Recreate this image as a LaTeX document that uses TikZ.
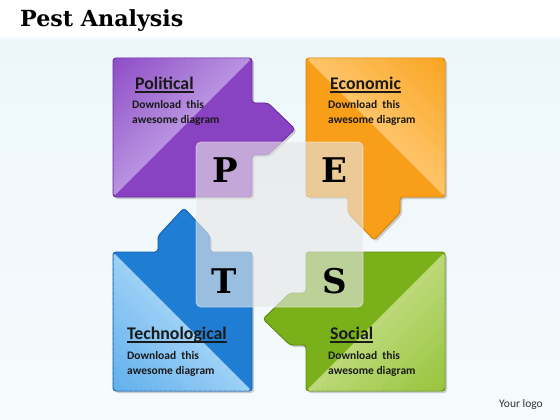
\documentclass[tikz,border=0pt]{standalone}
\usepackage{fontspec}
\setmainfont{Carlito}
\newfontfamily\slab{DejaVu Serif}
\usetikzlibrary{calc}
\definecolor{bgtop}{HTML}{EDF7FB}
\definecolor{bgbot}{HTML}{F6FAFC}
\definecolor{pdark}{HTML}{8842C2}
\definecolor{pc1}{HTML}{8E4EC6}
\definecolor{pc2}{HTML}{B892E0}
\definecolor{pedge}{HTML}{6A2C9E}
\definecolor{odark}{HTML}{F89E18}
\definecolor{oc1}{HTML}{F9A522}
\definecolor{oc2}{HTML}{FFC468}
\definecolor{oedge}{HTML}{D88200}
\definecolor{bdark}{HTML}{1F7ED4}
\definecolor{bc1}{HTML}{62B0EC}
\definecolor{bc2}{HTML}{9CD0F6}
\definecolor{bedge}{HTML}{145EA6}
\definecolor{gdark}{HTML}{7AB11A}
\definecolor{gc1}{HTML}{98C43E}
\definecolor{gc2}{HTML}{BBD978}
\definecolor{gedge}{HTML}{5C8A0E}
\definecolor{centrec}{HTML}{E6E6E6}
\definecolor{txt}{HTML}{1A1A1A}
\tikzset{
  quad/.style={line width=0.9pt, rounded corners=3pt},
  shadowbox/.style={fill=black, opacity=0.18, rounded corners=3pt},
  heading/.style={anchor=base west, inner sep=0pt, text=txt, font=\bfseries\fontsize{17.8}{17.8}\selectfont},
  bodytext/.style={anchor=base west, inner sep=0pt, text=txt, align=left, font=\bfseries\fontsize{11.5}{15}\selectfont},
  letter/.style={inner sep=0pt, text=black, font=\slab\bfseries\fontsize{34}{34}\selectfont},
  uline/.style={line width=1.2pt, draw=txt}
}
\newcommand{\dlt}{Download\hspace{0.45em}this\\awesome diagram}
% strips parallel to lines x+y=s (sum) from s=#1 (corner) to s=#2 (diagonal), colour #3 -> #4
\newcommand{\stripsum}[4]{%
  \foreach \i in {0,...,27}{%
    \pgfmathsetmacro{\sa}{#1+(#2-#1)*\i/28}%
    \pgfmathsetmacro{\sb}{#1+(#2-#1)*(\i+1.4)/28}%
    \pgfmathtruncatemacro{\pc}{100*\i/27}%
    \fill[#4!\pc!#3] (\sa,0) -- (\sb,0) -- (\sb-700,700) -- (\sa-700,700) -- cycle;
  }}
% strips parallel to lines x-y=s (difference)
\newcommand{\stripdif}[4]{%
  \foreach \i in {0,...,27}{%
    \pgfmathsetmacro{\sa}{#1+(#2-#1)*\i/28}%
    \pgfmathsetmacro{\sb}{#1+(#2-#1)*(\i+1.4)/28}%
    \pgfmathtruncatemacro{\pc}{100*\i/27}%
    \fill[#4!\pc!#3] (\sa,0) -- (\sb,0) -- (\sb+700,700) -- (\sa+700,700) -- cycle;
  }}
\begin{document}
\begin{tikzpicture}[x=1pt,y=-1pt]
\useasboundingbox (0,0) rectangle (560,420);
% background
\fill[white] (0,0) rectangle (560,420);
\shade[top color=bgtop, bottom color=bgbot] (0,40) rectangle (560,420);
\shade[top color=white, bottom color=bgtop] (0,34) rectangle (560,41);
% title
\node[anchor=base west, inner sep=0pt, text=black, font=\slab\bfseries\fontsize{22.2}{22.2}\selectfont] (title) at (20,27) {Pest Analysis};
% ---------- Political (top-left) ----------
\def\pathTL{(113,58) -- (252,58) -- (252,103) -- (268,103) -- (295,129) -- (268,155) -- (252,155) -- (252,197) -- (113,197) -- cycle}
\fill[shadowbox, xshift=2pt, yshift=-2pt] \pathTL;
\path[quad, fill=pdark, draw=pedge] \pathTL;
\begin{scope}
\clip[rounded corners=3pt] (113.5,58.5) -- (251.5,58.5) -- (113.5,196.5) -- cycle;
\stripsum{171}{310}{pc1}{pc2}
\end{scope}
% ---------- Economic (top-right) ----------
\def\pathTR{(306,58) -- (445,58) -- (445,197) -- (400,197) -- (400,213) -- (374,240) -- (348,213) -- (348,197) -- (306,197) -- cycle}
\fill[shadowbox, xshift=2pt, yshift=-2pt] \pathTR;
\path[quad, fill=odark, draw=oedge] \pathTR;
\begin{scope}
\clip[rounded corners=3pt] (306.5,58.5) -- (444.5,58.5) -- (444.5,196.5) -- cycle;
\stripdif{387}{248}{oc1}{oc2}
\end{scope}
% ---------- Technological (bottom-left) ----------
\def\pathBL{(113,252) -- (158,252) -- (158,236) -- (184,208) -- (210,236) -- (210,252) -- (252,252) -- (252,391) -- (113,391) -- cycle}
\fill[shadowbox, xshift=2pt, yshift=-2pt] \pathBL;
\path[quad, fill=bdark, draw=bedge] \pathBL;
\begin{scope}
\clip[rounded corners=3pt] (113.5,252.5) -- (113.5,390.5) -- (251.5,390.5) -- cycle;
\stripdif{-278}{-139}{bc1}{bc2}
\end{scope}
% ---------- Social (bottom-right) ----------
\def\pathBR{(306,252) -- (445,252) -- (445,391) -- (306,391) -- (306,345) -- (290,345) -- (263,319) -- (290,293) -- (306,293) -- cycle}
\fill[shadowbox, xshift=2pt, yshift=-2pt] \pathBR;
\path[quad, fill=gdark, draw=gedge] \pathBR;
\begin{scope}
\clip[rounded corners=3pt] (444.5,252.5) -- (444.5,390.5) -- (306.5,390.5) -- cycle;
\stripsum{836}{697}{gc1}{gc2}
\end{scope}
% ---------- centre square ----------
\fill[centrec, opacity=0.62, rounded corners=5pt] (196,142) rectangle (363,307);
\draw[white, opacity=0.5, line width=0.8pt, rounded corners=5pt] (196,142) rectangle (363,307);
% letters
\node[letter] (P) at (225,170) {P};
\node[letter] (E) at (334,170) {E};
\node[letter] (T) at (224,281) {T};
\node[letter] (S) at (335,281) {S};
% headings
\node[heading] (h1) at (135,89) {Political};
\node[heading] (h2) at (330,89) {Economic};
\node[heading] (h3) at (127,339) {Technological};
\node[heading] (h4) at (330,339) {Social};
\foreach \h in {h1,h2,h3,h4}{
  \draw[uline] ([yshift=-3pt]\h.base west) -- ([yshift=-3pt]\h.base east);
}
% body texts (anchor at baseline of last line)
\node[bodytext] (b1) at (132,123) {\dlt};
\node[bodytext] (b2) at (328,123) {\dlt};
\node[bodytext] (b3) at (127,374) {\dlt};
\node[bodytext] (b4) at (328,374) {\dlt};
% logo
\node[anchor=base west, inner sep=0pt, text=black!80, font=\fontsize{11.5}{11.5}\selectfont] (logo) at (499,407) {Your logo};
\end{tikzpicture}
\end{document}
